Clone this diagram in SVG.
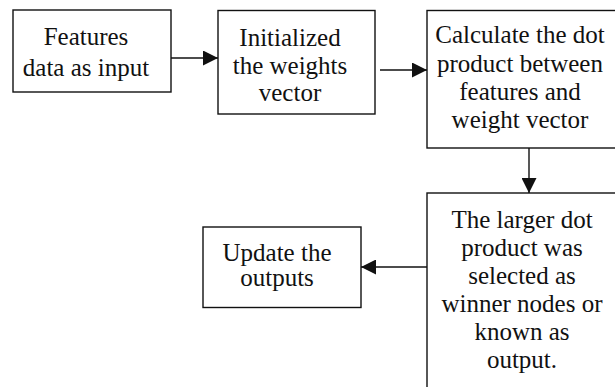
<svg xmlns="http://www.w3.org/2000/svg" width="615" height="387" viewBox="0 0 615 387">
<style>
.box{fill:#fff;stroke:#111;stroke-width:1.4}
.t{font-family:"Liberation Serif","Times New Roman",serif;font-size:25px;fill:#111;text-anchor:middle}
.c{stroke:#111;stroke-width:1.4;fill:none}
</style>
<defs>
<marker id="ah" markerWidth="15" markerHeight="15" refX="15" refY="7.5" orient="auto" markerUnits="userSpaceOnUse">
<path d="M0,0 L15,7.5 L0,15 Z" fill="#111"/>
</marker>
</defs>
<rect width="615" height="387" fill="#fff"/>
<g id="n1">
<rect class="box" x="13" y="10" width="158" height="82"/>
<text class="t" x="86" y="45">Features</text>
<text class="t" x="86" y="76">data as input</text>
</g>
<g id="n2">
<rect class="box" x="218" y="10.5" width="157" height="103.5"/>
<text class="t" x="290" y="46">Initialized</text>
<text class="t" x="290" y="74">the weights</text>
<text class="t" x="290" y="101">vector</text>
</g>
<g id="n3">
<rect class="box" x="427" y="10.5" width="200" height="137.5"/>
<text class="t" x="520" y="43">Calculate the dot</text>
<text class="t" x="520" y="71.5">product between</text>
<text class="t" x="520" y="100">features and</text>
<text class="t" x="520" y="128">weight vector</text>
</g>
<g id="n4">
<rect class="box" x="427" y="193" width="200" height="210"/>
<text class="t" x="522" y="228">The larger dot</text>
<text class="t" x="522" y="256">product was</text>
<text class="t" x="522" y="284">selected as</text>
<text class="t" x="522" y="312">winner nodes or</text>
<text class="t" x="522" y="340">known as</text>
<text class="t" x="522" y="368">output.</text>
</g>
<g id="n5">
<rect class="box" x="203" y="227" width="158" height="80.5"/>
<text class="t" x="277" y="261">Update the</text>
<text class="t" x="277" y="286">outputs</text>
</g>
<g id="connectors">
<line class="c" x1="171" y1="58" x2="218" y2="58" marker-end="url(#ah)"/>
<line class="c" x1="380" y1="70" x2="427" y2="70" marker-end="url(#ah)"/>
<line class="c" x1="529" y1="148" x2="529" y2="193" marker-end="url(#ah)"/>
<line class="c" x1="427" y1="267" x2="361" y2="267" marker-end="url(#ah)"/>
</g>
</svg>
